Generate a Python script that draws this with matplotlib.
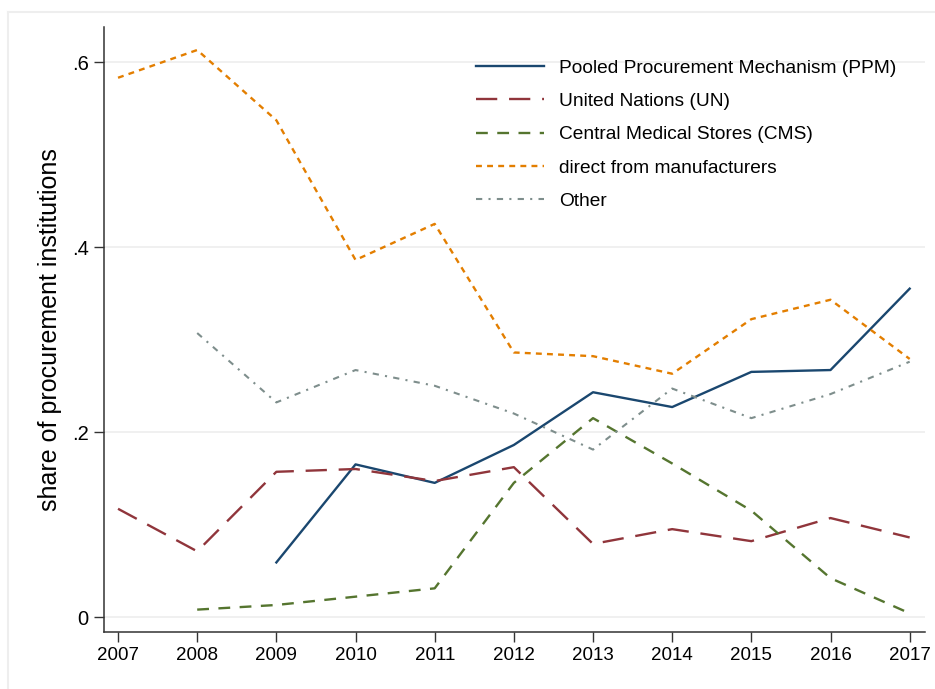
import matplotlib
matplotlib.use("Agg")
import matplotlib.pyplot as plt
from matplotlib.lines import Line2D

# shares of procurement institutions by year
years = list(range(2007, 2018))
ppm = [None, None, 0.059, 0.165, 0.145, 0.186, 0.243, 0.227, 0.265, 0.267, 0.355]
un = [0.117, 0.071, 0.157, 0.160, 0.147, 0.162, 0.079, 0.095, 0.082, 0.107, 0.086]
cms = [None, 0.008, 0.013, 0.022, 0.031, 0.145, 0.215, 0.166, 0.115, 0.042, 0.004]
direct = [0.583, 0.613, 0.537, 0.386, 0.425, 0.286, 0.282, 0.263, 0.322, 0.343, 0.279]
other = [None, 0.307, 0.232, 0.267, 0.250, 0.220, 0.181, 0.247, 0.215, 0.241, 0.276]

labels = ["Pooled Procurement Mechanism (PPM)", "United Nations (UN)",
          "Central Medical Stores (CMS)", "direct from manufacturers", "Other"]
y_ticks = [0, 0.2, 0.4, 0.6]
y_ticklabels = ["0", ".2", ".4", ".6"]

plt.rcParams['font.family'] = ['Liberation Sans', 'DejaVu Sans']


def pairs(vals):
    """drop missing years"""
    xs = [y for y, v in zip(years, vals) if v is not None]
    vs = [v for v in vals if v is not None]
    return xs, vs


fig = plt.figure(figsize=(9.35, 6.89), dpi=100)
ax = fig.add_axes([0.111, 0.083, 0.878, 0.878])

styles = [
    dict(color="#1a476f", linestyle="-", linewidth=1.7),
    dict(color="#90353b", linestyle=(0, (9, 5)), linewidth=1.7),
    dict(color="#55752f", linestyle=(0, (5, 4)), linewidth=1.7),
    dict(color="#e37e00", linestyle=(0, (2.5, 2.2)), linewidth=1.7),
    dict(color="#7e8e8c", linestyle=(0, (3, 3, 1, 3)), linewidth=1.5),
]

for vals, st in zip([ppm, un, cms, direct, other], styles):
    xs, vs = pairs(vals)
    ax.plot(xs, vs, **st)

ax.set_xlim(2006.82, 2017.19)
ax.set_ylim(-0.016, 0.638)
ax.set_xticks(years)
ax.set_yticks(y_ticks)
ax.set_yticklabels(y_ticklabels)
ax.tick_params(axis="x", labelsize=13.5, length=7, width=1, color="#333333", pad=4)
ax.tick_params(axis="y", labelsize=14.5, length=7, width=1, color="#333333", pad=4)
ax.set_ylabel("share of procurement institutions", fontsize=18, labelpad=7)
ax.grid(axis="y", color="#eeeeee", linewidth=1.2)
ax.set_axisbelow(True)
for s in ["top", "right"]:
    ax.spines[s].set_visible(False)
for s in ["left", "bottom"]:
    ax.spines[s].set_color("#333333")
    ax.spines[s].set_linewidth(1.1)

handles = [Line2D([0], [0], **st) for st in styles]
ax.legend(handles, labels, loc="upper left", bbox_to_anchor=(0.432, 0.975), frameon=False,
          fontsize=13.8, handlelength=3.55, handletextpad=0.8, labelspacing=0.83)

# faint frame of the graph region
fig.add_artist(Line2D([0.0085, 1.0], [0.983, 0.983], color="#eeeeee", linewidth=1.5))
fig.add_artist(Line2D([0.0085, 0.0085], [0.0, 0.983], color="#eeeeee", linewidth=1.5))

fig.savefig("out.png", dpi=100)
